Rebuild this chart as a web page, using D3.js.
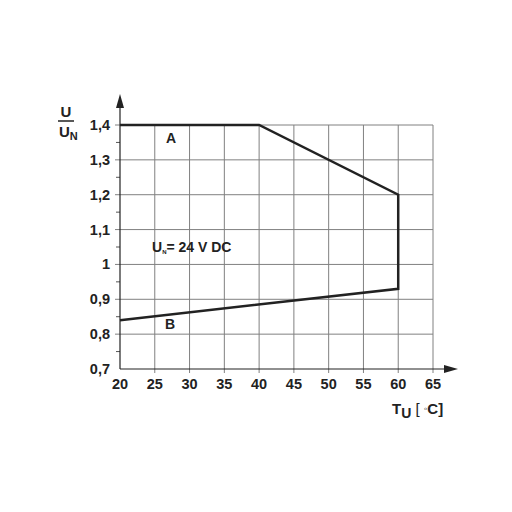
<!DOCTYPE html>
<html>
<head>
<meta charset="utf-8">
<script src="https://cdn.jsdelivr.net/npm/d3@7"></script>
<style>
  body { margin: 0; background: #fff; }
  text { font-family: "Liberation Sans", Arial, sans-serif; font-weight: bold; fill: #222; }
</style>
</head>
<body>
<svg id="chart" width="512" height="512"></svg>
<script>
// tick values
const xTicks = [20, 25, 30, 35, 40, 45, 50, 55, 60, 65];
const yTicks = [0.7, 0.8, 0.9, 1.0, 1.1, 1.2, 1.3, 1.4];
const yMinor = [0.75, 0.85, 0.95, 1.05, 1.15, 1.25, 1.35];

// derating curve, upper limit A and lower limit B
const curveT = [20, 40, 60, 60, 20];
const curveU = [1.4, 1.4, 1.2, 0.93, 0.84];

const svg = d3.select("#chart");

const x = d3.scaleLinear().domain([20, 65]).range([120, 433]);
const y = d3.scaleLinear().domain([0.7, 1.4]).range([369, 125]);

const fmt = d => d3.format(".1f")(d).replace(".", ",").replace(/^1,0$/, "1");

// grid
svg.append("g").selectAll("line")
    .data(xTicks.slice(1))
    .join("line")
    .attr("x1", d => x(d)).attr("x2", d => x(d))
    .attr("y1", y(1.4)).attr("y2", y(0.7) + 4)
    .attr("stroke", "#808080").attr("stroke-width", 1);

svg.append("g").selectAll("line")
    .data(yTicks.slice(1))
    .join("line")
    .attr("x1", x(20) - 5).attr("x2", x(65))
    .attr("y1", d => y(d)).attr("y2", d => y(d))
    .attr("stroke", "#808080").attr("stroke-width", 1);

// minor ticks on y
svg.append("g").selectAll("line")
    .data(yMinor)
    .join("line")
    .attr("x1", x(20) - 4).attr("x2", x(20))
    .attr("y1", d => y(d)).attr("y2", d => y(d))
    .attr("stroke", "#555").attr("stroke-width", 1);

// axes with arrows
svg.append("line")
    .attr("x1", x(20)).attr("x2", x(20))
    .attr("y1", y(0.7)).attr("y2", 104)
    .attr("stroke", "#222").attr("stroke-width", 1.2);
svg.append("path")
    .attr("d", `M${x(20)},94 L${x(20) - 4},108 L${x(20) + 4},108 Z`)
    .attr("fill", "#222");

svg.append("line")
    .attr("x1", x(20)).attr("x2", 448)
    .attr("y1", y(0.7)).attr("y2", y(0.7))
    .attr("stroke", "#222").attr("stroke-width", 1.2);
svg.append("path")
    .attr("d", `M458,${y(0.7)} L444,${y(0.7) - 4} L444,${y(0.7) + 4} Z`)
    .attr("fill", "#222");

// tick labels
svg.append("g").selectAll("text")
    .data(yTicks)
    .join("text")
    .attr("x", 110).attr("y", d => y(d) + 5)
    .attr("text-anchor", "end")
    .attr("font-size", 14.5)
    .text(fmt);

svg.append("g").selectAll("text")
    .data(xTicks)
    .join("text")
    .attr("x", d => x(d)).attr("y", 389)
    .attr("text-anchor", "middle")
    .attr("font-size", 14.5)
    .text(d => d);

// curve
const line = d3.line().x(d => x(d[0])).y(d => y(d[1]));
svg.append("path")
    .datum(curveT.map((t, i) => [t, curveU[i]]))
    .attr("d", line)
    .attr("fill", "none")
    .attr("stroke", "#222")
    .attr("stroke-width", 2.5)
    .attr("stroke-linejoin", "miter");

// labels
svg.append("text").attr("x", 171).attr("y", 143).attr("text-anchor", "middle")
    .attr("font-size", 14).text("A");
svg.append("text").attr("x", 170).attr("y", 329).attr("text-anchor", "middle")
    .attr("font-size", 14).text("B");

const un = svg.append("text").attr("x", 152).attr("y", 252).attr("font-size", 14);
un.append("tspan").text("U");
un.append("tspan").attr("font-size", 6).attr("dy", 2).text("N");
un.append("tspan").attr("dy", -2).text("= 24 V DC");

// y axis title U / U_N
svg.append("text").attr("x", 66).attr("y", 117).attr("text-anchor", "middle")
    .attr("font-size", 15).text("U");
svg.append("line").attr("x1", 58).attr("x2", 74).attr("y1", 121).attr("y2", 121)
    .attr("stroke", "#222").attr("stroke-width", 1.5);
const un2 = svg.append("text").attr("x", 59).attr("y", 137).attr("font-size", 15);
un2.append("tspan").text("U");
un2.append("tspan").attr("font-size", 11).attr("dy", 3).text("N");

// x axis title
const tu = svg.append("text").attr("x", 392).attr("y", 414).attr("font-size", 15);
tu.append("tspan").text("T");
tu.append("tspan").attr("font-size", 14).attr("dy", 4).text("U");
tu.append("tspan").attr("dy", -4).attr("font-weight", "normal").text(" [ ");
tu.append("tspan").attr("font-size", 10).attr("dy", -2).attr("font-weight", "normal").text("◦");
tu.append("tspan").attr("dy", 2).text("C]");
</script>
</body>
</html>
